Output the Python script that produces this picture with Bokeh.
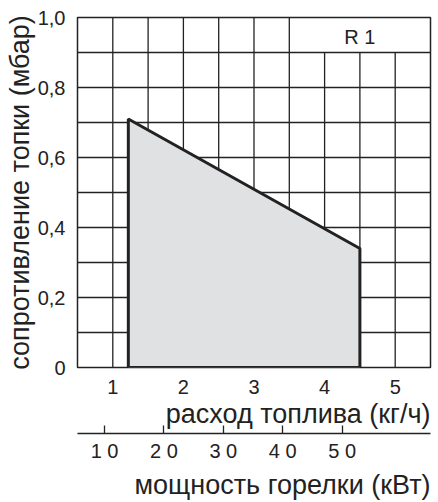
from bokeh.plotting import figure
from bokeh.models import FixedTicker, LinearAxis, Range1d, Title
from bokeh.core.properties import value
from bokeh.embed import file_html
from bokeh.resources import INLINE

# ---- data ----
fuel_flow = [1.22, 1.22, 4.5, 4.5]          # kg/h, polygon vertices
resistance = [0.0, 0.71, 0.34, 0.0]          # mbar
x_ticks = [1, 2, 3, 4, 5]
y_ticks = [0, 0.2, 0.4, 0.6, 0.8, 1.0]
y_tick_labels = ["0", "0,2", "0,4", "0,6", "0,8", "1,0"]
kw_ticks = [10, 20, 30, 40, 50]
kw_tick_labels = ["1 0", "2 0", "3 0", "4 0", "5 0"]
vgrid_x = [1.0, 1.5, 2.0, 2.5, 3.0, 3.5, 4.0, 4.5, 5.0]
hgrid_y = [0.1, 0.2, 0.3, 0.4, 0.5, 0.6, 0.7, 0.8, 0.9]
label_text = "R 1"

FONT = "Liberation Sans"
DARK = "#222222"

p = figure(width=438, frame_height=350, x_range=(0.5, 5.5), y_range=(0, 1.0),
           output_backend="svg", toolbar_location=None,
           min_border_left=77, min_border_right=8, min_border_top=17, min_border_bottom=0)
p.background_fill_color = "white"
p.border_fill_color = "white"
p.outline_line_color = DARK
p.outline_line_width = 1.5

# grids
p.xgrid.visible = False
p.ygrid.ticker = FixedTicker(ticks=hgrid_y)
p.ygrid.grid_line_color = DARK
p.ygrid.grid_line_width = 1.3
top = [0.9 if x >= 4.0 else 1.0 for x in vgrid_x]
p.segment(x0=vgrid_x, y0=[0] * len(vgrid_x), x1=vgrid_x, y1=top,
          line_color=DARK, line_width=1.3)

# operating area
p.patch(fuel_flow, resistance, fill_color="#e0e1e3", line_color=DARK, line_width=3)

p.text(x=[4.5], y=[0.945], text=[label_text], text_align="center", text_baseline="middle",
       text_font_size="20px", text_color=DARK, text_font=value(FONT))

# primary x axis
xa = p.xaxis[0]
xa.ticker = FixedTicker(ticks=x_ticks)
xa.axis_line_color = None
xa.major_tick_line_color = None
xa.minor_tick_line_color = None
xa.major_label_text_font = FONT
xa.major_label_text_font_size = "20px"
xa.major_label_text_color = DARK
xa.major_label_standoff = 6

# y axis
ya = p.yaxis[0]
ya.ticker = FixedTicker(ticks=y_ticks)
ya.major_label_overrides = {t: l for t, l in zip(y_ticks, y_tick_labels)}
ya.axis_line_color = None
ya.major_tick_line_color = None
ya.minor_tick_line_color = None
ya.major_label_text_font = FONT
ya.major_label_text_font_size = "20px"
ya.major_label_text_color = DARK
ya.major_label_standoff = 6
ya.axis_label = "сопротивление топки (мбар)"
ya.axis_label_text_font = FONT
ya.axis_label_text_font_size = "27px"
ya.axis_label_text_font_style = "normal"
ya.axis_label_text_color = DARK
ya.axis_label_standoff = 0

# label of fuel axis
t1 = Title(text="расход топлива (кг/ч)", align="right", vertical_align="top",
           text_font=FONT, text_font_size="27px", text_font_style="normal",
           text_color=DARK, standoff=5, offset=0)
p.add_layout(t1, "below")

# secondary kW axis
p.extra_x_ranges = {"kw": Range1d(5.45, 64.87)}
kw = LinearAxis(x_range_name="kw", ticker=FixedTicker(ticks=kw_ticks))
kw.major_label_overrides = {t: l for t, l in zip(kw_ticks, kw_tick_labels)}
kw.axis_line_color = DARK
kw.axis_line_width = 1.3
kw.major_tick_line_color = DARK
kw.major_tick_line_width = 1.3
kw.major_tick_in = 8
kw.major_tick_out = 0
kw.minor_tick_line_color = None
kw.major_label_text_font = FONT
kw.major_label_text_font_size = "20px"
kw.major_label_text_color = DARK
kw.major_label_standoff = 6
p.add_layout(kw, "below")

t2 = Title(text="мощность горелки (кВт)", align="right", text_font=FONT,
           text_font_size="27px", text_font_style="normal", text_color=DARK,
           standoff=7, offset=0)
p.add_layout(t2, "below")

open("out.html", "w").write(file_html(p, INLINE))
